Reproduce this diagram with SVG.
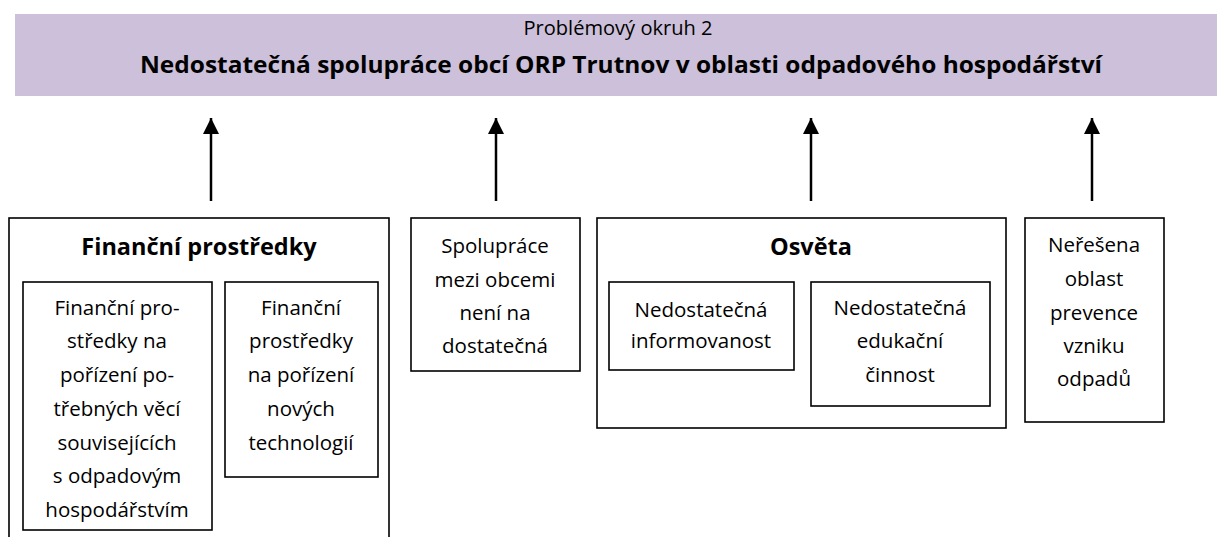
<svg xmlns="http://www.w3.org/2000/svg" width="1217" height="537" viewBox="0 0 1217 537">
<style>
.box{fill:#fff;stroke:#000;stroke-width:1.6}
.t{font-family:"Open Sans","Liberation Sans",sans-serif;font-size:20.5px;fill:#000;text-anchor:middle}
.h{font-family:"Open Sans","Liberation Sans",sans-serif;font-size:23.5px;font-weight:bold;fill:#000;text-anchor:middle}
.conn line{stroke:#000;stroke-width:2.5}
</style>
<defs>
<marker id="ah" viewBox="0 0 10 10" refX="10" refY="5" markerWidth="16" markerHeight="16" markerUnits="userSpaceOnUse" orient="auto">
<path d="M0,0 L10,5 L0,10 z" fill="#000"/>
</marker>
</defs>
<rect width="1217" height="537" fill="#fff"/>
<g id="header">
<rect x="15" y="14" width="1202" height="82" fill="#CCC0DA"/>
<text class="t" x="618" y="35" font-size="17.5" textLength="189" lengthAdjust="spacingAndGlyphs">Problémový okruh 2</text>
<text class="h" x="621" y="73" font-size="22.5" textLength="962" lengthAdjust="spacingAndGlyphs">Nedostatečná spolupráce obcí ORP Trutnov v oblasti odpadového hospodářství</text>
</g>
<g id="connectors" class="conn">
<line x1="211" y1="201" x2="211" y2="118" marker-end="url(#ah)"/>
<line x1="496" y1="201" x2="496" y2="118" marker-end="url(#ah)"/>
<line x1="811" y1="201" x2="811" y2="118" marker-end="url(#ah)"/>
<line x1="1092" y1="201" x2="1092" y2="118" marker-end="url(#ah)"/>
</g>
<g id="financni">
<rect class="box" x="9" y="218" width="380" height="330"/>
<text class="h" x="199" y="255">Finanční prostředky</text>
</g>
<g id="financni-1">
<rect class="box" x="23" y="282" width="189" height="248"/>
<text class="t" x="117" y="315">Finanční pro-</text>
<text class="t" x="117" y="348">středky na</text>
<text class="t" x="117" y="382">pořízení po-</text>
<text class="t" x="117" y="416">třebných věcí</text>
<text class="t" x="117" y="450">souvisejících</text>
<text class="t" x="117" y="483">s odpadovým</text>
<text class="t" x="117" y="517">hospodářstvím</text>
</g>
<g id="financni-2">
<rect class="box" x="225" y="282" width="153" height="195"/>
<text class="t" x="301" y="315">Finanční</text>
<text class="t" x="301" y="348">prostředky</text>
<text class="t" x="301" y="382">na pořízení</text>
<text class="t" x="301" y="416">nových</text>
<text class="t" x="301" y="450">technologií</text>
</g>
<g id="spoluprace">
<rect class="box" x="411" y="218" width="169" height="153"/>
<text class="t" x="495" y="253">Spolupráce</text>
<text class="t" x="495" y="287">mezi obcemi</text>
<text class="t" x="495" y="320">není na</text>
<text class="t" x="495" y="353">dostatečná</text>
</g>
<g id="osveta">
<rect class="box" x="597" y="218" width="409" height="210"/>
<text class="h" x="811" y="255">Osvěta</text>
</g>
<g id="osveta-1">
<rect class="box" x="609" y="282" width="185" height="88"/>
<text class="t" x="701" y="317">Nedostatečná</text>
<text class="t" x="701" y="348">informovanost</text>
</g>
<g id="osveta-2">
<rect class="box" x="811" y="282" width="179" height="124"/>
<text class="t" x="900" y="315">Nedostatečná</text>
<text class="t" x="900" y="348">edukační</text>
<text class="t" x="900" y="382">činnost</text>
</g>
<g id="neresena">
<rect class="box" x="1025" y="218" width="139" height="204"/>
<text class="t" x="1094" y="252">Neřešena</text>
<text class="t" x="1094" y="286">oblast</text>
<text class="t" x="1094" y="320">prevence</text>
<text class="t" x="1094" y="353">vzniku</text>
<text class="t" x="1094" y="386">odpadů</text>
</g>
</svg>
